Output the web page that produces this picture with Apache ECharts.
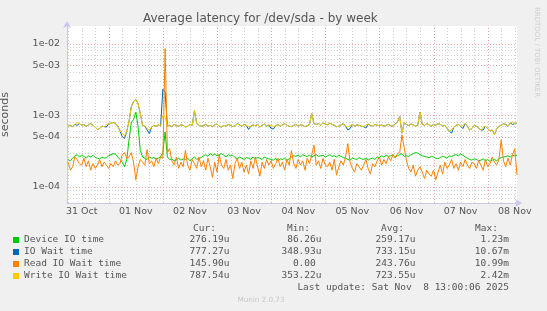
<!DOCTYPE html>
<html><head><meta charset="utf-8">
<script src="https://cdn.jsdelivr.net/npm/echarts@6/dist/echarts.min.js"></script>
<style>html,body{margin:0;padding:0;background:#f0f0f0}#c{width:547px;height:311px}</style>
</head><body><div id="c"></div>
<script>
// hours counted from 31 Oct 00:00, one sample per hour starting 06:00
const startHour = 6;
const xMinHour = 5.5, xMaxHour = 205;
const xTickHours = [12, 36, 60, 84, 108, 132, 156, 180, 204];
const xTickLabels = ['31 Oct','01 Nov','02 Nov','03 Nov','04 Nov','05 Nov','06 Nov','07 Nov','08 Nov'];
const yTickValues = [1e-4, 5e-4, 1e-3, 5e-3, 1e-2];
const yTickLabels = ['1e-04','5e-04','1e-03','5e-03','1e-02'];
const yMin = 5.92e-5, yMax = 0.01756;

const seriesNames = ['Device IO time','IO Wait time','Read IO Wait time','Write IO Wait time'];
const seriesColors = ['#00cc00','#0066b3','#ff8000','#ffcc00'];
const curVals = ['276.19u','777.27u','145.90u','787.54u'];
const minVals = ['86.26u','348.93u','0.00 ','353.22u'];
const avgVals = ['259.17u','733.15u','243.76u','723.55u'];
const maxVals = ['1.23m','10.67m','10.99m','2.42m'];
const lastUpdate = 'Last update: Sat Nov  8 13:00:06 2025';

// values in microseconds
const deviceUs = [
240,230,250,270,280,260,275,265,250,270,
260,275,255,250,245,260,250,255,270,280,
290,285,260,240,220,190,240,450,780,870,
1100,700,320,260,250,240,260,250,255,245,
250,260,300,580,260,240,245,230,240,250,
235,245,240,250,230,245,260,240,250,255,
270,280,265,290,275,285,270,280,290,275,
260,280,270,275,255,245,260,250,240,255,
250,240,260,245,255,250,240,260,250,245,
240,235,250,230,245,240,250,235,245,260,
270,265,275,260,280,270,265,275,260,270,
280,265,270,275,260,270,280,265,270,260,
275,265,255,250,240,235,250,245,240,255,
245,240,250,235,245,250,240,260,255,270,
260,275,265,270,280,260,270,280,290,265,
270,265,280,290,300,295,280,270,265,260,
255,265,260,250,245,255,265,260,250,270,
265,275,280,270,285,275,260,250,240,235,
245,240,230,235,245,230,240,225,235,240,
230,245,255,260,265,270,260,275,270,276];
const ioWaitUs = [
700,720,690,740,720,760,720,740,700,730,
760,720,680,630,650,700,690,680,760,770,
790,760,700,600,500,470,600,820,1300,1550,
1650,1450,1050,720,700,620,550,680,720,700,
730,700,2300,2100,700,720,690,740,710,700,
730,720,680,700,740,720,1150,760,720,700,
710,740,700,720,690,730,750,700,680,720,
700,740,720,690,710,760,730,700,740,720,
630,700,730,710,740,680,720,750,700,730,
650,640,710,740,700,730,760,720,700,690,
720,740,700,730,720,690,710,740,1050,760,
740,760,720,780,750,730,770,740,720,690,
700,730,760,700,620,650,740,700,730,720,
700,690,660,750,720,700,740,720,710,730,
700,720,740,710,700,750,800,960,560,780,
740,720,750,730,700,720,1100,740,720,760,
730,700,740,720,760,740,700,720,650,600,
560,680,720,740,700,650,760,700,620,650,
720,700,660,620,620,700,650,600,620,540,
640,700,720,760,740,700,780,740,760,777];
const readUs = [
220,170,190,260,240,210,200,250,190,230,
170,210,180,200,240,190,220,200,180,210,
190,230,200,210,280,300,250,260,300,220,
125,190,240,220,200,330,210,230,190,250,
210,260,250,8500,300,340,230,200,260,180,
220,190,320,200,170,240,210,180,260,190,
230,170,250,190,135,220,160,280,200,180,
240,170,200,130,210,250,180,220,160,200,
150,230,180,260,190,140,220,180,240,200,
230,180,210,250,190,220,170,240,200,320,
210,180,240,200,230,170,250,210,280,380,
200,230,180,250,200,190,220,170,240,145,
190,230,200,260,400,220,180,160,210,190,
170,200,240,180,150,210,190,230,260,200,
240,210,260,230,280,250,290,300,530,350,
230,180,160,200,140,170,190,160,130,170,
150,140,170,125,160,200,150,220,180,200,
240,180,210,170,220,190,240,200,180,220,
210,180,230,200,170,240,190,210,260,220,
200,240,450,230,190,250,200,280,340,146];
const writeUs = [
700,720,690,740,790,760,720,740,700,730,
760,720,680,630,650,700,690,740,760,770,
790,760,700,600,560,510,600,820,1300,1550,
1650,1450,1050,720,700,650,620,680,720,700,
730,700,1000,950,700,720,690,740,710,700,
730,720,680,700,740,720,1150,760,720,700,
710,740,700,720,690,730,750,700,680,720,
700,740,720,690,710,760,730,700,740,720,
690,700,730,710,740,680,720,750,700,730,
720,690,710,740,700,730,760,720,700,690,
720,740,700,730,720,690,710,740,1050,760,
740,760,720,780,750,730,770,740,720,690,
700,730,760,700,680,720,740,700,730,720,
700,690,730,750,720,700,740,720,710,730,
700,720,740,710,700,750,800,960,560,780,
740,720,750,730,700,720,1100,740,720,760,
730,700,740,720,760,740,700,720,650,600,
620,680,720,740,700,720,760,700,620,650,
720,700,660,620,680,700,650,600,620,540,
640,700,720,760,740,700,780,800,760,790];

const seriesValues = [deviceUs, ioWaitUs, readUs, writeUs];
const toData = arr => arr.map((v, i) => [startHour + i, v / 1e6]);

const minorCol = '#d0d0d0', majorCol = '#eea2a2', textCol = '#555';

const series = seriesNames.map((n, k) => ({
  name: n, type: 'line', data: toData(seriesValues[k]), showSymbol: false, symbol: 'none',
  color: seriesColors[k], lineStyle: {width: 1, color: seriesColors[k]}, z: 2 + k, animation: false
}));

const chart = echarts.init(document.getElementById('c'), null, {renderer: 'canvas'});
chart.setOption({
  backgroundColor: '#f0f0f0',
  animation: false,
  title: {text: 'Average latency for /dev/sda - by week', left: 143, top: 13, padding: 0,
    textStyle: {fontFamily: 'DejaVu Sans', fontSize: 12, fontWeight: 'normal', color: textCol}},
  grid: {left: 67, right: 30, top: 26, bottom: 108, show: true, backgroundColor: '#ffffff', borderWidth: 0,
    containLabel: false, outerBoundsMode: 'none'},
  xAxis: {type: 'value', min: xMinHour, max: xMaxHour,
    axisLine: {show: true, lineStyle: {color: '#c6c6ee', width: 1}, symbol: ['none', 'arrow'], symbolSize: [6, 7], symbolOffset: [0, 5]},
    axisTick: {show: false}, axisLabel: {show: false}, splitLine: {show: false}},
  yAxis: {type: 'log', logBase: 10, min: yMin, max: yMax,
    name: 'seconds', nameLocation: 'middle', nameRotate: 90, nameGap: 56,
    nameTextStyle: {fontFamily: 'DejaVu Sans', fontSize: 11, color: textCol},
    axisLine: {show: true, lineStyle: {color: '#c6c6ee', width: 1}, symbol: ['none', 'arrow'], symbolSize: [6, 7], symbolOffset: [0, 5]},
    axisTick: {show: false}, axisLabel: {show: false}, splitLine: {show: false}},
  legend: {data: seriesNames, orient: 'vertical', left: 13, top: 234, padding: 0, itemWidth: 6, itemHeight: 6, itemGap: 0,
    icon: 'rect', selectedMode: false,
    textStyle: {fontFamily: 'DejaVu Sans Mono', fontSize: 9.5, color: textCol, lineHeight: 12}},
  series: series
});

// grid lines and tick labels placed through the chart's own scales
const px = (x, y) => chart.convertToPixel({gridIndex: 0}, [x, y]);
const crisp = v => Math.round(v) + 0.5;
const graphics = [];
const dash = [1, 2];
const leftPx = px(xMinHour, yMin)[0], rightPx = px(xMaxHour, yMin)[0];
const bottomPx = px(xMinHour, yMin)[1], topPx = px(xMinHour, yMax)[1];
function hLine(v, col) {
  const y = crisp(px(xMinHour, v)[1]);
  graphics.push({type: 'line', z: 1, silent: true, shape: {x1: leftPx, y1: y, x2: rightPx, y2: y}, style: {stroke: col, lineWidth: 1, lineDash: dash}});
}
function vLine(h, col) {
  const x = crisp(px(h, yMin)[0]);
  graphics.push({type: 'line', z: 1, silent: true, shape: {x1: x, y1: bottomPx, x2: x, y2: topPx}, style: {stroke: col, lineWidth: 1, lineDash: dash}});
}
for (let h = 6; h <= 204; h += 6) if (h % 24 !== 0) vLine(h, minorCol);
for (let d = -5; d <= -2; d++) {
  for (let k = 2; k <= 9; k++) {
    if (k === 5) continue;
    const v = k * Math.pow(10, d);
    if (v >= yMin && v <= yMax) hLine(v, minorCol);
  }
}
for (let h = 24; h <= 204; h += 24) vLine(h, majorCol);
yTickValues.forEach(v => hLine(v, majorCol));
yTickValues.forEach((v, k) => {
  const p = px(xMinHour, v);
  graphics.push({type: 'text', z: 3, silent: true, x: p[0] - 7, y: p[1], style: {text: yTickLabels[k], font: '9.5px "DejaVu Sans"', fill: textCol,
    align: 'right', textAlign: 'right', verticalAlign: 'middle', textVerticalAlign: 'middle'}});
});
xTickHours.forEach((h, k) => {
  const p = px(h, yMin);
  graphics.push({type: 'text', z: 3, silent: true, x: p[0], y: p[1] + 9, style: {text: xTickLabels[k], font: '9.5px "DejaVu Sans"', fill: textCol,
    align: 'center', textAlign: 'center', verticalAlign: 'middle', textVerticalAlign: 'middle'}});
});

const mono = '9.5px "DejaVu Sans Mono"';
const header = [['Cur:', 193], ['Min:', 287], ['Avg:', 381], ['Max:', 475]];
header.forEach(([t, x]) => graphics.push({type: 'text', x: x, y: 228.5, style: {text: t, font: mono, fill: textCol, align: 'left', textAlign: 'left', verticalAlign: 'middle', textVerticalAlign: 'middle'}}));
const cols = [[curVals, 229.5], [minVals, 321.5], [avgVals, 415.5], [maxVals, 509]];
cols.forEach(([vals, x]) => vals.forEach((t, r) => graphics.push({type: 'text', x: x, y: 240 + r * 12,
  style: {text: t, font: mono, fill: textCol, align: 'right', textAlign: 'right', verticalAlign: 'middle', textVerticalAlign: 'middle'}})));
graphics.push({type: 'text', x: 509, y: 287.5, style: {text: lastUpdate, font: mono, fill: textCol, align: 'right', textAlign: 'right', verticalAlign: 'middle', textVerticalAlign: 'middle'}});
graphics.push({type: 'text', x: 261, y: 300.5, style: {text: 'Munin 2.0.73', font: '7.2px "DejaVu Sans"', fill: '#c8c8c8', align: 'center', textAlign: 'center', verticalAlign: 'middle', textVerticalAlign: 'middle'}});
graphics.push({type: 'text', x: 537, y: 52, rotation: -Math.PI / 2, style: {text: 'RRDTOOL / TOBI OETIKER', font: '7px "DejaVu Sans"', fill: '#cfcfcf', align: 'center', textAlign: 'center', verticalAlign: 'middle', textVerticalAlign: 'middle'}});

chart.setOption({graphic: graphics});
</script></body></html>
